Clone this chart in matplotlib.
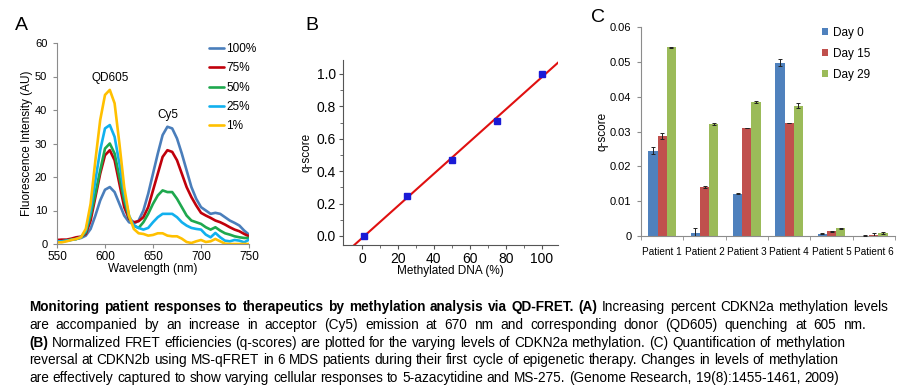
import numpy as np
import matplotlib
matplotlib.use("Agg")
import matplotlib.pyplot as plt

plt.rcParams['font.family'] = ['Liberation Sans', 'DejaVu Sans']

# ---------------- Panel A data ----------------
wavelength = [550, 555, 560, 565, 570, 575, 580, 585, 590, 595, 600, 605, 610, 615, 620,
              625, 630, 635, 640, 645, 650, 655, 660, 665, 670, 675, 680, 685, 690, 695,
              700, 705, 710, 715, 720, 725, 730, 735, 740, 745, 750]
spec_100 = [1.0, 1.0, 1.0, 1.3, 1.5, 1.8, 2.5, 4.5, 8.5, 13, 16.2, 17, 15.5, 12, 8.5,
            6.5, 6, 7, 10, 15, 21, 27, 32.5, 35, 34.5, 31.5, 27, 22, 17, 13.5,
            11, 10, 9, 9.3, 9, 8, 7, 6.3, 5.5, 4, 2.8]
spec_75 = [1.2, 1.3, 1.3, 1.6, 2, 2.2, 3, 7, 14, 21, 26.5, 28, 25, 18, 11,
           7.5, 6.5, 6.8, 8, 11, 16, 21, 26, 28, 27.5, 25, 21, 17, 14, 11.5,
           9.3, 8.5, 7.8, 7, 6.5, 5.8, 5, 4.3, 3.8, 3, 2.3]
spec_50 = [0.8, 0.8, 1.0, 1.3, 1.5, 2, 3.5, 8.5, 15, 22, 28.5, 30, 27, 20, 13,
           8, 5.5, 4.8, 6.5, 9, 12, 14.5, 16, 15.5, 15.5, 13.5, 11, 8.5, 7, 6.5,
           6, 5, 4.3, 5, 4, 3.2, 2.8, 2.3, 2, 1.8, 1.8]
spec_25 = [0.8, 0.8, 1.0, 1.2, 1.5, 2, 4, 10, 19, 28, 34.5, 35.5, 32, 24, 15,
           8.5, 5.5, 4.8, 4.3, 4.8, 6.5, 8, 9, 9, 9, 8, 6.5, 5.5, 4.8, 4.5,
           4.3, 2.8, 2, 3.3, 2, 1, 0.8, 1.2, 1, 0.5, 1.3]
spec_1 = [0.5, 0.5, 0.8, 1.2, 1.5, 2, 4.5, 12, 25, 37, 44.5, 46, 42, 30, 17,
          8.5, 4.5, 3.2, 3, 2.5, 2.7, 3.2, 3.2, 2.5, 2.3, 2.3, 1.6, 0.6, 0.3, 0.8,
          1.2, 0.6, 0.8, 1.5, 0.8, 0.1, 0, 0, 0, 0, 0]
spec_labels = ['100%', '75%', '50%', '25%', '1%']
spec_colors = ['#4A7EBB', '#C0000B', '#1EA84E', '#11B0EE', '#FFC000']

# ---------------- Panel B data ----------------
meth_pct = [1, 25, 50, 75, 100]
qscore = [0.0, 0.245, 0.47, 0.71, 1.0]

# ---------------- Panel C data ----------------
patients = ['Patient 1', 'Patient 2', 'Patient 3', 'Patient 4', 'Patient 5', 'Patient 6']
day0 = [0.0245, 0.0010, 0.0122, 0.0497, 0.0007, 0.0001]
day15 = [0.0287, 0.0140, 0.0310, 0.0323, 0.0013, 0.0003]
day29 = [0.0542, 0.0321, 0.0384, 0.0374, 0.0022, 0.0009]
err0 = [0.0011, 0.0012, 0.0002, 0.0010, 0.0002, 0.0001]
err15 = [0.0008, 0.0003, 0.0001, 0.0000, 0.0002, 0.0005]
err29 = [0.0001, 0.0002, 0.0003, 0.0007, 0.0002, 0.0002]
day_labels = ['Day 0', 'Day 15', 'Day 29']
day_colors = ['#4F81BD', '#C0504D', '#9BBB59']

W, H = 900, 392
fig = plt.figure(figsize=(W / 100, H / 100), dpi=100)


def frac(l, t, r, b):
    return [l / W, 1 - b / H, (r - l) / W, (b - t) / H]


GRAY = '#8C8C8C'

# ================= Panel A =================
axA = fig.add_axes(frac(57, 43, 249, 244))
for ys, c, lab in zip([spec_100, spec_75, spec_50, spec_25, spec_1], spec_colors, spec_labels):
    axA.plot(wavelength, ys, color=c, lw=1.9, label=lab, solid_joinstyle='round',
             solid_capstyle='round')
axA.set_xlim(550, 750)
axA.set_ylim(0, 60)
axA.set_xticks([550, 600, 650, 700, 750])
axA.set_yticks(range(0, 61, 10))
for s in ['top', 'right']:
    axA.spines[s].set_visible(False)
for s in ['left', 'bottom']:
    axA.spines[s].set_color(GRAY)
    axA.spines[s].set_linewidth(0.8)
axA.tick_params(axis='y', length=3, color=GRAY, labelsize=8, pad=4)
axA.tick_params(axis='x', length=3, color=GRAY, labelsize=8.5, pad=2)
axA.set_ylabel('Fluorescence Intensity (AU)', fontsize=8.5)
axA.yaxis.set_label_coords(-0.125, 0.5)
axA.set_xlabel('Wavelength (nm)', fontsize=8.5)
axA.xaxis.set_label_coords(0.5, -0.095)
axA.text(605, 49.5, 'QD605', fontsize=8.5, ha='center', va='center')
axA.text(665.5, 38.5, 'Cy5', fontsize=8.5, ha='center', va='center')
axA.legend(loc='upper left', bbox_to_anchor=(209 / W, 1 - 43 / H), bbox_transform=fig.transFigure,
           frameon=False, fontsize=8.5, handlelength=1.3, handletextpad=0.15,
           labelspacing=0.62, borderpad=0, borderaxespad=0)
fig.text(21 / W, 1 - 25 / H, 'A', fontsize=14, ha='center', va='center')

# ================= Panel B =================
axB = fig.add_axes(frac(343, 60, 558, 245))
axB.set_xlim(-10.5, 109)
axB.set_ylim(-0.056, 1.086)
slope, intercept = np.polyfit(meth_pct, qscore, 1)
xs = np.array(axB.get_xlim())
axB.plot(xs, slope * xs + intercept, color='#E01010', lw=1.5, zorder=2)
axB.plot(meth_pct, qscore, 's', color='#1A1AD6', ms=4, zorder=3)
axB.set_xticks(range(0, 101, 20))
axB.set_xticks(range(10, 110, 20), minor=True)
axB.set_yticks([0.0, 0.2, 0.4, 0.6, 0.8, 1.0])
axB.set_yticks([0.1, 0.3, 0.5, 0.7, 0.9], minor=True)
axB.yaxis.set_major_formatter(matplotlib.ticker.FormatStrFormatter('%.1f'))
for s in ['top', 'right']:
    axB.spines[s].set_visible(False)
for s in ['left', 'bottom']:
    axB.spines[s].set_color('#555555')
    axB.spines[s].set_linewidth(0.8)
axB.tick_params(which='major', length=3, color='#555555', labelsize=10, pad=2)
axB.tick_params(which='minor', length=2, color='#555555')
axB.set_ylabel('q-score', fontsize=8.5)
axB.yaxis.set_label_coords(-0.14, 0.5)
axB.set_xlabel('Methylated DNA (%)', fontsize=8.5)
axB.xaxis.set_label_coords(0.5, -0.11)
fig.text(312 / W, 1 - 25 / H, 'B', fontsize=14, ha='center', va='center')

# ================= Panel C =================
axC = fig.add_axes(frac(641, 27, 895, 236))
xpos = np.arange(len(patients))
bw = 0.22
for k, (vals, errs, c, lab) in enumerate(zip([day0, day15, day29], [err0, err15, err29], day_colors, day_labels)):
    axC.bar(xpos + (k - 1) * bw, vals, width=bw, color=c, label=lab, zorder=2)
    axC.errorbar(xpos + (k - 1) * bw, vals, yerr=errs, fmt='none', ecolor='#222222',
                 elinewidth=0.7, capsize=1.2, capthick=0.7, zorder=3)
axC.set_xlim(-0.5, len(patients) - 0.5)
axC.set_ylim(0, 0.06)
axC.set_yticks([0, 0.01, 0.02, 0.03, 0.04, 0.05, 0.06])
axC.set_yticklabels(['0', '0.01', '0.02', '0.03', '0.04', '0.05', '0.06'])
axC.set_xticks(xpos)
axC.set_xticklabels(patients)
axC.set_xticks(np.arange(-0.5, len(patients), 1.0), minor=True)
for s in ['top', 'right']:
    axC.spines[s].set_visible(False)
for s in ['left', 'bottom']:
    axC.spines[s].set_color(GRAY)
    axC.spines[s].set_linewidth(0.8)
axC.tick_params(axis='y', length=3, color=GRAY, labelsize=8, pad=4)
axC.tick_params(axis='x', which='major', length=0, labelsize=7.2, pad=8)
axC.tick_params(axis='x', which='minor', length=3, color=GRAY)
axC.set_ylabel('q-score', fontsize=8.5)
axC.yaxis.set_label_coords(-0.126, 0.5)
axC.legend(loc='upper left', bbox_to_anchor=(822 / W, 1 - 27 / H), bbox_transform=fig.transFigure,
           frameon=False, fontsize=8.5, handlelength=0.55, handleheight=0.55, handletextpad=0.4,
           labelspacing=0.75, borderpad=0, borderaxespad=0)
fig.text(598 / W, 1 - 18 / H, 'C', fontsize=14, ha='center', va='center')

# ================= Caption =================
FS = 9.8
renderer = fig.canvas.get_renderer()
X0 = 29


def draw_line(segments, y, right=None):
    words = []
    for txt, bold in segments:
        for w in txt.split():
            words.append((w, bold))
    objs = [fig.text(0, 1 - y / H, w, fontsize=FS, fontweight='bold' if b else 'normal',
                     ha='left', va='center') for w, b in words]
    widths = [t.get_window_extent(renderer).width for t in objs]
    space = 0.278 * FS * 100 / 72
    gap = space if right is None else (right - X0 - sum(widths)) / (len(objs) - 1)
    x = X0
    for t, w in zip(objs, widths):
        t.set_x(x / W)
        x += w + gap


draw_line([('Monitoring patient responses to therapeutics by methylation analysis via QD-FRET. (A)', True),
           ('Increasing percent CDKN2a methylation levels', False)], 307, right=888)
draw_line([('are accompanied by an increase in acceptor (Cy5) emission at 670 nm and corresponding donor (QD605) quenching at 605 nm.', False)], 325, right=866)
draw_line([('(B)', True), ('Normalized FRET efficiencies (q-scores) are plotted for the varying levels of CDKN2a methylation. (C) Quantification of methylation', False)], 343)
draw_line([('reversal at CDKN2b using MS-qFRET in 6 MDS patients during their first cycle of epigenetic therapy. Changes in levels of methylation', False)], 360)
draw_line([('are effectively captured to show varying cellular responses to 5-azacytidine and MS-275. (Genome Research, 19(8):1455-1461, 2009)', False)], 378)

fig.savefig('out.png', dpi=100)
